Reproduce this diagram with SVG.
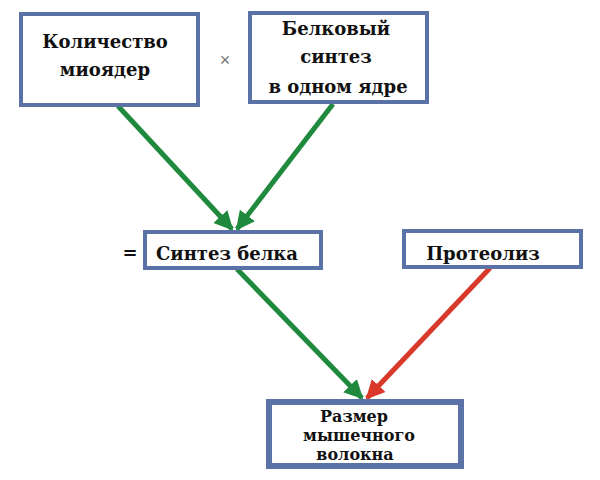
<svg xmlns="http://www.w3.org/2000/svg" width="600" height="480" viewBox="0 0 600 480">
<style>
.box{fill:#fff;stroke:#5a72a6;stroke-width:4}
.t{font-family:'DejaVu Serif',serif;font-weight:700;font-size:18px;fill:#111;text-anchor:middle}
.g{stroke:#1f8a3e;stroke-width:5;fill:none}
.r{stroke:#d9392b;stroke-width:5;fill:none}
</style>
<defs>
<marker id="ag" viewBox="0 0 10 10" refX="9" refY="5" markerWidth="3.8" markerHeight="3.8" orient="auto" markerUnits="strokeWidth"><path d="M0,0 L10,5 L0,10 Z" fill="#1f8a3e"/></marker>
<marker id="ar" viewBox="0 0 10 10" refX="9" refY="5" markerWidth="3.8" markerHeight="3.8" orient="auto" markerUnits="strokeWidth"><path d="M0,0 L10,5 L0,10 Z" fill="#d9392b"/></marker>
</defs>
<rect width="600" height="480" fill="#fff"/>
<g id="connectors">
<line class="g" x1="118" y1="106" x2="232" y2="229" marker-end="url(#ag)"/>
<line class="g" x1="333" y1="104" x2="237" y2="229" marker-end="url(#ag)"/>
<line class="g" x1="237" y1="269" x2="362" y2="398" marker-end="url(#ag)"/>
<line class="r" x1="490" y1="268" x2="367" y2="398" marker-end="url(#ar)"/>
</g>
<g id="n1">
<rect class="box" x="21" y="14" width="177" height="91"/>
<text class="t" x="105" y="48">Количество</text>
<text class="t" x="105" y="76">миоядер</text>
</g>
<text x="225" y="66" font-family="'Liberation Sans',sans-serif" font-size="18" fill="#777" text-anchor="middle">×</text>
<g id="n2">
<rect class="box" x="250" y="13" width="177" height="89"/>
<text class="t" x="336" y="35">Белковый</text>
<text class="t" x="336" y="63">синтез</text>
<text class="t" x="338" y="93">в одном ядре</text>
</g>
<text class="t" x="130" y="259">=</text>
<g id="n3">
<rect class="box" x="145" y="232" width="176" height="36"/>
<text class="t" x="227" y="260">Синтез белка</text>
</g>
<g id="n4">
<rect class="box" x="404" y="231" width="177" height="36"/>
<text class="t" x="483" y="260">Протеолиз</text>
</g>
<g id="n5">
<rect class="box" x="269" y="402" width="192" height="64" style="stroke-width:6"/>
<text class="t" x="354" y="422" style="font-size:16px">Размер</text>
<text class="t" x="359" y="441" style="font-size:16px">мышечного</text>
<text class="t" x="355" y="460" style="font-size:16px">волокна</text>
</g>
</svg>
